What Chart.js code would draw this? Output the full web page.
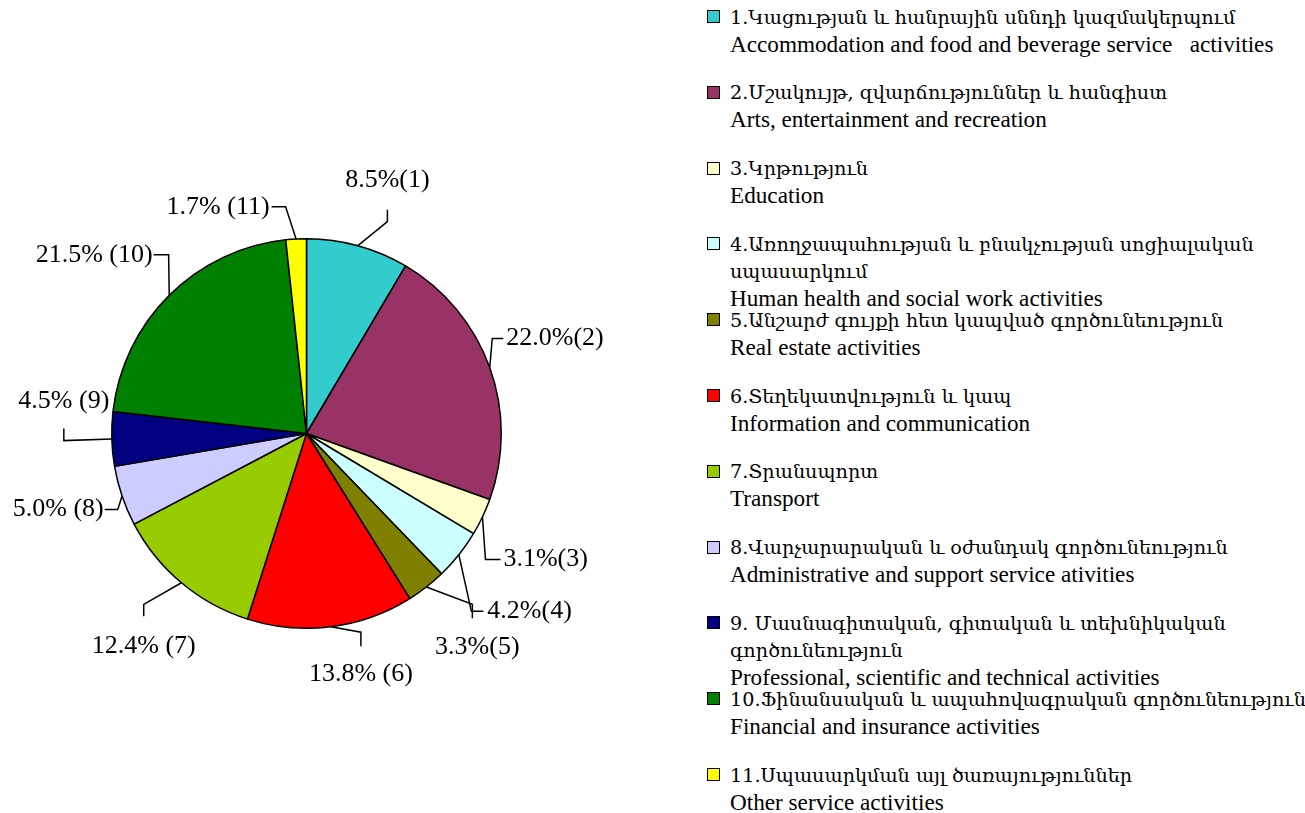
<!DOCTYPE html>
<html>
<head>
<meta charset="utf-8">
<script src="https://cdn.jsdelivr.net/npm/chart.js@4/dist/chart.umd.min.js"></script>
<style>
  html, body { margin: 0; padding: 0; background: #fff; }
  body { width: 1305px; height: 813px; position: relative; overflow: hidden; }
  #wrap { position: absolute; left: 0; top: 0; width: 700px; height: 813px; }
  #legend { position: absolute; left: 0; top: 0; }
  .item { position: absolute; left: 707px; white-space: pre; color: #000; }
  .box { position: absolute; left: 0; top: 0; width: 11px; height: 11px; border: 1.5px solid #000; }
  .txt { position: absolute; left: 23px; top: -6.5px; }
  .arm { font-family: "DejaVu Serif", serif; font-size: 19.2px; line-height: 27px; }
  .eng { font-family: "Liberation Serif", "DejaVu Serif", serif; font-size: 23.2px; line-height: 27px; }
</style>
</head>
<body>
<div id="wrap"><canvas id="c"></canvas></div>
<div id="legend"></div>
<script>
// ---- data ----
const categoryNumbers = [1, 2, 3, 4, 5, 6, 7, 8, 9, 10, 11];
const categoriesArm = [
  "1.Կացության և հանրային սննդի կազմակերպում",
  "2.Մշակույթ, զվարճություններ և հանգիստ",
  "3.Կրթություն",
  "4.Առողջապահության և բնակչության սոցիալական\nսպասարկում",
  "5.Անշարժ գույքի հետ կապված գործունեություն",
  "6.Տեղեկատվություն և կապ",
  "7.Տրանսպորտ",
  "8.Վարչարարական և օժանդակ գործունեություն",
  "9. Մասնագիտական, գիտական և տեխնիկական\nգործունեություն",
  "10.Ֆինանսական և ապահովագրական գործունեություն",
  "11.Սպասարկման այլ ծառայություններ"
];
const categoriesEng = [
  "Accommodation and food and beverage service   activities",
  "Arts, entertainment and recreation",
  "Education",
  "Human health and social work activities",
  "Real estate activities",
  "Information and communication",
  "Transport",
  "Administrative and support service ativities",
  "Professional, scientific and technical activities",
  "Financial and insurance activities",
  "Other service activities"
];
const shares = [8.5, 22.0, 3.1, 4.2, 3.3, 13.8, 12.4, 5.0, 4.5, 21.5, 1.7];

// ---- style ----
const sliceColors = ["#33CCCC", "#993366", "#FFFFCC", "#CCFFFF", "#808000", "#FF0000",
                     "#99CC00", "#CCCCFF", "#000080", "#008000", "#FFFF00"];
const labelGap = ["", "", "", "", "", " ", " ", " ", " ", " ", " "];
// leader layout relative to the slice's outer mid point: [elbow dx,dy, end dx,dy, text dx,dy, align]
const leaderLayout = [
  [29.5, -24, 29.5, -36, 29.5, -65, "center"],
  [2.5, -29, 13.5, -29, 16.5, -29, "left"],
  [3, 42.5, 18, 42.5, 21, 42.5, "left"],
  [12.5, 56.5, 24.5, 56.5, 28.5, 56.5, "left"],
  [46, 17.3, 46, 31.3, 51, 60, "center"],
  [30, 5.5, 30, 19.5, 30, 47.5, "center"],
  [-37.7, 21.6, -37.7, 33.6, -37.7, 63.6, "center"],
  [-4.3, 13.5, -17.3, 13.5, -18.3, 13.5, "right"],
  [-48, 1.6, -48, -10.4, -48, -37.4, "center"],
  [-0.6, -40.6, -15.6, -40.6, -16.6, -40.6, "right"],
  [-10.5, -32.3, -24.5, -32.3, -26.5, -32.3, "right"]
];
const LABEL_FONT = '26px "Liberation Serif", "DejaVu Serif", serif';

const leaderPlugin = {
  id: 'leaders',
  afterDatasetsDraw(chart) {
    const ctx = chart.ctx;
    const meta = chart.getDatasetMeta(0);
    ctx.save();
    ctx.strokeStyle = '#000';
    ctx.lineWidth = 1.5;
    ctx.fillStyle = '#000';
    ctx.font = LABEL_FONT;
    ctx.textBaseline = 'middle';
    meta.data.forEach((arc, i) => {
      const p = arc.getProps(['x', 'y', 'startAngle', 'endAngle', 'outerRadius'], true);
      const mid = (p.startAngle + p.endAngle) / 2;
      const ax = p.x + Math.cos(mid) * p.outerRadius;
      const ay = p.y + Math.sin(mid) * p.outerRadius;
      const L = leaderLayout[i];
      ctx.beginPath();
      ctx.moveTo(ax, ay);
      ctx.lineTo(ax + L[0], ay + L[1]);
      ctx.lineTo(ax + L[2], ay + L[3]);
      ctx.stroke();
      ctx.textAlign = L[6];
      const txt = shares[i].toFixed(1) + '%' + labelGap[i] + '(' + categoryNumbers[i] + ')';
      ctx.fillText(txt, ax + L[4], ay + L[5]);
    });
    ctx.restore();
  }
};

new Chart(document.getElementById('c'), {
  type: 'pie',
  data: {
    labels: categoriesEng,
    datasets: [{
      data: shares,
      backgroundColor: sliceColors,
      borderColor: '#000',
      borderWidth: 1.5
    }]
  },
  options: {
    responsive: true,
    maintainAspectRatio: false,
    animation: false,
    layout: { padding: { left: 111, right: 198, top: 238, bottom: 184 } },
    plugins: { legend: { display: false }, tooltip: { enabled: false } }
  },
  plugins: [leaderPlugin]
});

// ---- legend (HTML text) ----
const legend = document.getElementById('legend');
categoriesArm.forEach((arm, i) => {
  const d = document.createElement('div');
  d.className = 'item';
  d.style.top = (10 + i * 75.8) + 'px';
  const b = document.createElement('div');
  b.className = 'box';
  b.style.background = sliceColors[i];
  const t = document.createElement('div');
  t.className = 'txt';
  const a = document.createElement('div');
  a.className = 'arm';
  a.textContent = arm;
  const e = document.createElement('div');
  e.className = 'eng';
  e.textContent = categoriesEng[i];
  t.appendChild(a);
  t.appendChild(e);
  d.appendChild(b);
  d.appendChild(t);
  legend.appendChild(d);
});
</script>
</body>
</html>
